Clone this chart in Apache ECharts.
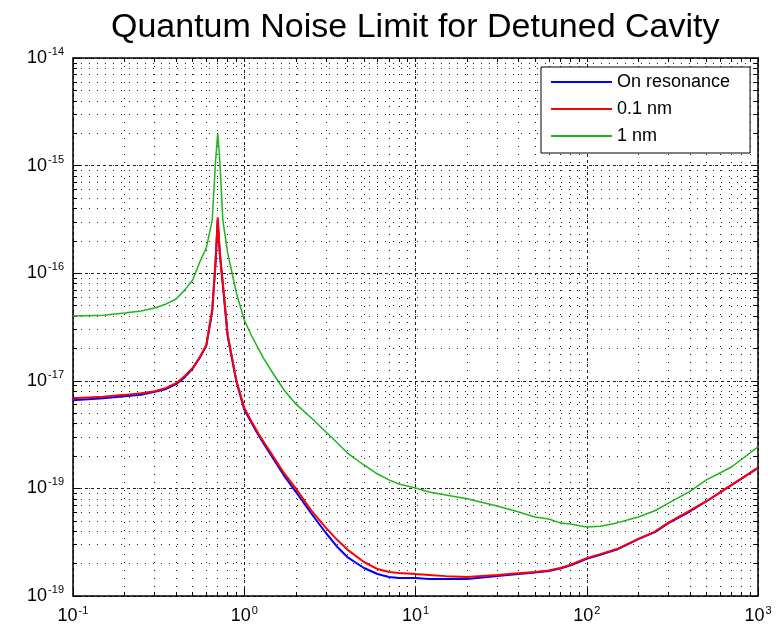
<!DOCTYPE html>
<html>
<head>
<meta charset="utf-8">
<title>Quantum Noise Limit for Detuned Cavity</title>
<style>
  html, body { margin: 0; padding: 0; background: #fff; }
  #chart { width: 781px; height: 626px; }
</style>
<script src="https://cdn.jsdelivr.net/npm/echarts@6/dist/echarts.min.js"></script>
</head>
<body>
<div id="chart"></div>
<script>
// frequency samples
const freq = [0.1, 0.15, 0.2, 0.25, 0.3, 0.35, 0.4, 0.45, 0.5, 0.55,
  0.6, 0.65, 0.68, 0.7, 0.72, 0.75, 0.8, 0.9, 1, 1.1,
  1.2, 1.3, 1.5, 1.7, 2, 2.5, 3, 3.5, 4, 5,
  6, 7, 8, 10, 12, 15, 20, 30, 40, 50,
  60, 70, 80, 100, 120, 150, 200, 250, 300, 400,
  500, 700, 1000]

// on resonance (blue)
const onResonance = [6.6e-18, 6.9e-18, 7.2e-18, 7.4e-18, 7.9e-18, 8.4e-18, 9.3e-18, 1.08e-17, 1.30e-17, 1.64e-17,
  2.1e-17, 4.4e-17, 1.25e-16, 3.1e-16, 1.5e-16, 7.7e-17, 2.6e-17, 9.8e-18, 5.4e-18, 4.1e-18,
  3.2e-18, 2.6e-18, 1.82e-18, 1.33e-18, 9.3e-19, 5.66e-19, 3.85e-19, 2.85e-19, 2.3e-19, 1.82e-19,
  1.6e-19, 1.5e-19, 1.47e-19, 1.47e-19, 1.44e-19, 1.44e-19, 1.44e-19, 1.53e-19, 1.6e-19, 1.65e-19,
  1.71e-19, 1.8e-19, 1.92e-19, 2.22e-19, 2.42e-19, 2.7e-19, 3.38e-19, 3.92e-19, 4.75e-19, 6.1e-19,
  7.6e-19, 1.07e-18, 1.55e-18]

// 0.1 nm detuning (red)
const detune01 = [6.9e-18, 7.1e-18, 7.4e-18, 7.67e-18, 8.0e-18, 8.6e-18, 9.5e-18, 1.11e-17, 1.32e-17, 1.66e-17,
  2.15e-17, 4.6e-17, 1.3e-16, 3.3e-16, 1.55e-16, 8.1e-17, 2.7e-17, 1.0e-17, 5.6e-18, 4.2e-18,
  3.3e-18, 2.7e-18, 1.9e-18, 1.4e-18, 1.0e-18, 6.04e-19, 4.3e-19, 3.31e-19, 2.7e-19, 2.07e-19,
  1.78e-19, 1.67e-19, 1.64e-19, 1.6e-19, 1.57e-19, 1.53e-19, 1.5e-19, 1.57e-19, 1.63e-19, 1.67e-19,
  1.73e-19, 1.82e-19, 1.94e-19, 2.25e-19, 2.45e-19, 2.73e-19, 3.4e-19, 3.96e-19, 4.8e-19, 6.2e-19,
  7.6e-19, 1.08e-18, 1.55e-18]

// 1 nm detuning (green)
const detune1 = [4.0e-17, 4.07e-17, 4.26e-17, 4.46e-17, 4.75e-17, 5.18e-17, 5.76e-17, 7.0e-17, 8.65e-17, 1.27e-16,
  1.71e-16, 3.1e-16, 1.1e-15, 2.0e-15, 1.1e-15, 3.1e-16, 1.55e-16, 6.55e-17, 3.67e-17, 2.65e-17,
  2.03e-17, 1.61e-17, 1.12e-17, 8.3e-18, 6.1e-18, 4.42e-18, 3.34e-18, 2.64e-18, 2.13e-18, 1.65e-18,
  1.36e-18, 1.2e-18, 1.1e-18, 1.01e-18, 9.26e-19, 8.7e-19, 8.0e-19, 6.86e-19, 6.04e-19, 5.43e-19,
  5.2e-19, 4.78e-19, 4.67e-19, 4.38e-19, 4.45e-19, 4.78e-19, 5.43e-19, 6.2e-19, 7.3e-19, 9.4e-19,
  1.2e-18, 1.58e-18, 2.43e-18]

// tick labels (exponents as printed on the figure)
const xMajor = [0.1, 1, 10, 100, 1000]
const xExp = ['-1', '0', '1', '2', '3']
const yMajor = [1e-19, 1e-18, 1e-17, 1e-16, 1e-15, 1e-14]
const yExp = ['-19', '-19', '-17', '-16', '-15', '-14']

const mantissa = [1, 2, 3, 4, 5, 6, 7, 8, 9]
const withMinor = (majors) => {
  const out = []
  majors.forEach((m, i) => {
    if (i === majors.length - 1) { out.push(m); return }
    mantissa.forEach(k => out.push(k * m))
  })
  return out
}
const xAll = withMinor(xMajor)
const yAll = withMinor(yMajor)

const pick = (majors, exps) => (v) => {
  const i = majors.findIndex(m => Math.abs(Math.log10(m) - Math.log10(v)) < 1e-6)
  return i < 0 ? '' : '{b|10}{s|' + exps[i] + '}'
}

const richLabel = {
  b: { fontSize: 18, fontFamily: 'Liberation Sans', color: '#000' },
  s: { fontSize: 11, fontFamily: 'Liberation Sans', color: '#000', padding: [0, 0, 12, 1] }
}

const axisLine = { show: true, onZero: false, lineStyle: { color: '#000', width: 1.5 } }
const dotted = { show: true, lineStyle: { color: '#222', width: 1, type: [1, 7] } }
const dashed = { show: true, lineStyle: { color: '#222', width: 1, type: [3, 3] } }

const logAxis = (extra) => Object.assign({
  type: 'log', logBase: 10, axisLine: axisLine,
  axisLabel: { show: false }, splitLine: { show: false }
}, extra)

const chart = echarts.init(document.getElementById('chart'))

chart.setOption({
  animation: false,
  backgroundColor: '#fff',
  title: {
    text: 'Quantum Noise Limit for Detuned Cavity',
    left: 106,
    top: 6,
    textStyle: { fontFamily: 'Liberation Sans', fontWeight: 'normal', fontSize: 34, color: '#000' }
  },
  grid: { left: 73, right: 23, top: 58, bottom: 30 },
  legend: {
    orient: 'vertical',
    left: 541,
    top: 67,
    padding: [6, 20, 8, 10],
    itemGap: 9,
    itemWidth: 61,
    itemHeight: 2,
    icon: 'rect',
    backgroundColor: '#fff',
    borderColor: '#000',
    borderWidth: 1,
    textStyle: { fontFamily: 'Liberation Sans', fontSize: 18, color: '#000' },
    data: ['On resonance', '0.1 nm', '1 nm']
  },
  xAxis: [
    logAxis({
      position: 'bottom', min: 0.1, max: 1000,
      axisTick: { show: true, inside: true, length: 4, customValues: xAll, lineStyle: { color: '#000' } },
      axisLabel: { show: true, margin: 9, customValues: xMajor, formatter: pick(xMajor, xExp), rich: richLabel },
      splitLine: dotted
    }),
    logAxis({
      position: 'top', min: 0.1, max: 1000,
      axisTick: { show: true, inside: true, length: 4, customValues: xAll, lineStyle: { color: '#000' } }
    }),
    logAxis({
      position: 'bottom', min: 0.1, max: 1000, axisLine: { show: false },
      axisTick: { show: true, inside: true, length: 7, customValues: xMajor, lineStyle: { color: '#000' } },
      splitLine: dashed
    })
  ],
  yAxis: [
    logAxis({
      position: 'left', min: 1e-19, max: 1e-14,
      axisTick: { show: true, inside: true, length: 4, customValues: yAll, lineStyle: { color: '#000' } },
      axisLabel: { show: true, margin: 9, customValues: yMajor, formatter: pick(yMajor, yExp), rich: richLabel },
      splitLine: dotted
    }),
    logAxis({
      position: 'right', min: 1e-19, max: 1e-14,
      axisTick: { show: true, inside: true, length: 4, customValues: yAll, lineStyle: { color: '#000' } }
    }),
    logAxis({
      position: 'left', min: 1e-19, max: 1e-14, axisLine: { show: false },
      axisTick: { show: true, inside: true, length: 7, customValues: yMajor, lineStyle: { color: '#000' } },
      splitLine: dashed
    })
  ],
  series: [
    {
      name: 'On resonance', type: 'line', symbol: 'none', color: '#0000ff',
      lineStyle: { width: 2 }, data: freq.map((f, i) => [f, onResonance[i]])
    },
    {
      name: '0.1 nm', type: 'line', symbol: 'none', color: '#ff0000',
      lineStyle: { width: 2 }, data: freq.map((f, i) => [f, detune01[i]])
    },
    {
      name: '1 nm', type: 'line', symbol: 'none', color: '#1eb41e',
      lineStyle: { width: 1.5 }, data: freq.map((f, i) => [f, detune1[i]])
    }
  ]
})
</script>
</body>
</html>
